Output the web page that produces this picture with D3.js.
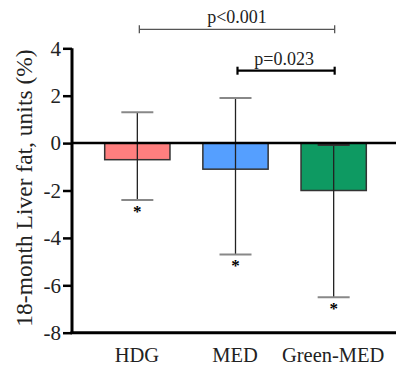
<!DOCTYPE html>
<html><head><meta charset="utf-8">
<script src="https://cdn.jsdelivr.net/npm/d3@7"></script>
<style>html,body{margin:0;padding:0;background:#fff}svg{display:block}</style>
</head><body>
<svg id="c" width="396" height="367"></svg>
<script>
const categories = ["HDG", "MED", "Green-MED"];
const means = [-0.7, -1.1, -2.0];
const errUpper = [1.3, 1.9, -0.08];
const errLower = [-2.4, -4.7, -6.5];
const colors = ["#FF7F7F", "#559FFF", "#0E9A62"];
const yTicks = [4, 2, 0, -2, -4, -6, -8];
const yTitle = "18-month Liver fat, units (%)";
const comparisons = [
  {from: "HDG", to: "Green-MED", label: "p<0.001", level: 0},
  {from: "MED", to: "Green-MED", label: "p=0.023", level: 1}
];

const svg = d3.select("#c");
const font = "'Liberation Serif','Times New Roman',serif";
const left = 72, right = 396;
const y = d3.scaleLinear().domain([-8, 4]).range([332.7, 48.3]);
const x = d3.scaleBand().domain(categories).range([88.5, 382.5]).paddingInner(0.335).paddingOuter(0.165);

// bars
const g = svg.append("g");
categories.forEach((c, i) => {
  const bx = x(c), bw = x.bandwidth();
  g.append("rect").attr("x", bx).attr("y", y(Math.max(0, means[i])))
    .attr("width", bw).attr("height", Math.abs(y(means[i]) - y(0)))
    .attr("fill", colors[i]).attr("stroke", "#333").attr("stroke-width", 1.5);
});

// zero line
svg.append("line").attr("x1", left).attr("x2", right).attr("y1", y(0)).attr("y2", y(0))
  .attr("stroke", "#000").attr("stroke-width", 2.5);

// error bars
categories.forEach((c, i) => {
  const cx = x(c) + x.bandwidth() / 2;
  const capW = 16;
  g.append("line").attr("x1", cx).attr("x2", cx).attr("y1", y(errUpper[i])).attr("y2", y(errLower[i]))
    .attr("stroke", "#222").attr("stroke-width", 1.3);
  [errUpper[i], errLower[i]].forEach(v => {
    g.append("line").attr("x1", cx - capW).attr("x2", cx + capW).attr("y1", y(v)).attr("y2", y(v))
      .attr("stroke", v > -0.5 && v < 0 ? "#333" : "#888").attr("stroke-width", 2);
  });
  svg.append("text").attr("x", cx).attr("y", y(errLower[i]) + 17)
    .attr("text-anchor", "middle").attr("font-family", font).attr("font-size", 17).attr("font-weight", "bold")
    .text("*");
});

// y axis
const ax = svg.append("g").attr("transform", `translate(${left},0)`)
  .call(d3.axisLeft(y).tickValues(yTicks).tickSize(9).tickPadding(2).tickFormat(d3.format("d")));
ax.select(".domain").attr("stroke", "#000").attr("stroke-width", 3).attr("d", `M0,${y(4)}V${y(-8)}`);
ax.selectAll(".tick line").attr("stroke", "#000").attr("stroke-width", 2.5);
ax.selectAll(".tick text").attr("font-family", font).attr("font-size", 21).attr("fill", "#222")
  .text(d => d < 0 ? "-" + Math.abs(d) : d);

// x axis line
svg.append("line").attr("x1", left - 1.5).attr("x2", right).attr("y1", y(-8)).attr("y2", y(-8))
  .attr("stroke", "#000").attr("stroke-width", 3);

// x labels
categories.forEach(c => {
  svg.append("text").attr("x", x(c) + x.bandwidth() / 2 - 0.5).attr("y", 362)
    .attr("text-anchor", "middle").attr("font-family", font).attr("font-size", 20.5).attr("fill", "#222").text(c);
});

// y title
svg.append("text").attr("transform", `translate(32,${(48 + 328) / 2}) rotate(-90)`)
  .attr("text-anchor", "middle").attr("font-family", font).attr("font-size", 23.5).attr("fill", "#222").text(yTitle);

// significance brackets
const levels = [{ly: 29.3, ty: 23, sw: 1.3, col: "#555", tick: 4}, {ly: 70.7, ty: 65, sw: 2.2, col: "#000", tick: 4}];
comparisons.forEach(cmp => {
  const L = levels[cmp.level];
  const x1 = x(cmp.from) + x.bandwidth() / 2 + 2, x2 = x(cmp.to) + x.bandwidth() / 2 + 1;
  svg.append("line").attr("x1", x1).attr("x2", x2).attr("y1", L.ly).attr("y2", L.ly).attr("stroke", L.col).attr("stroke-width", L.sw);
  [x1, x2].forEach(xx => svg.append("line").attr("x1", xx).attr("x2", xx).attr("y1", L.ly - L.tick).attr("y2", L.ly + L.tick)
    .attr("stroke", L.col).attr("stroke-width", L.sw));
  svg.append("text").attr("x", cmp.level === 0 ? (x1 + x2) / 2 : (x1 + x2) / 2 - 2).attr("y", L.ty)
    .attr("text-anchor", "middle").attr("font-family", font).attr("font-size", 18).attr("fill", "#222").text(cmp.label);
});
</script>
</body></html>
